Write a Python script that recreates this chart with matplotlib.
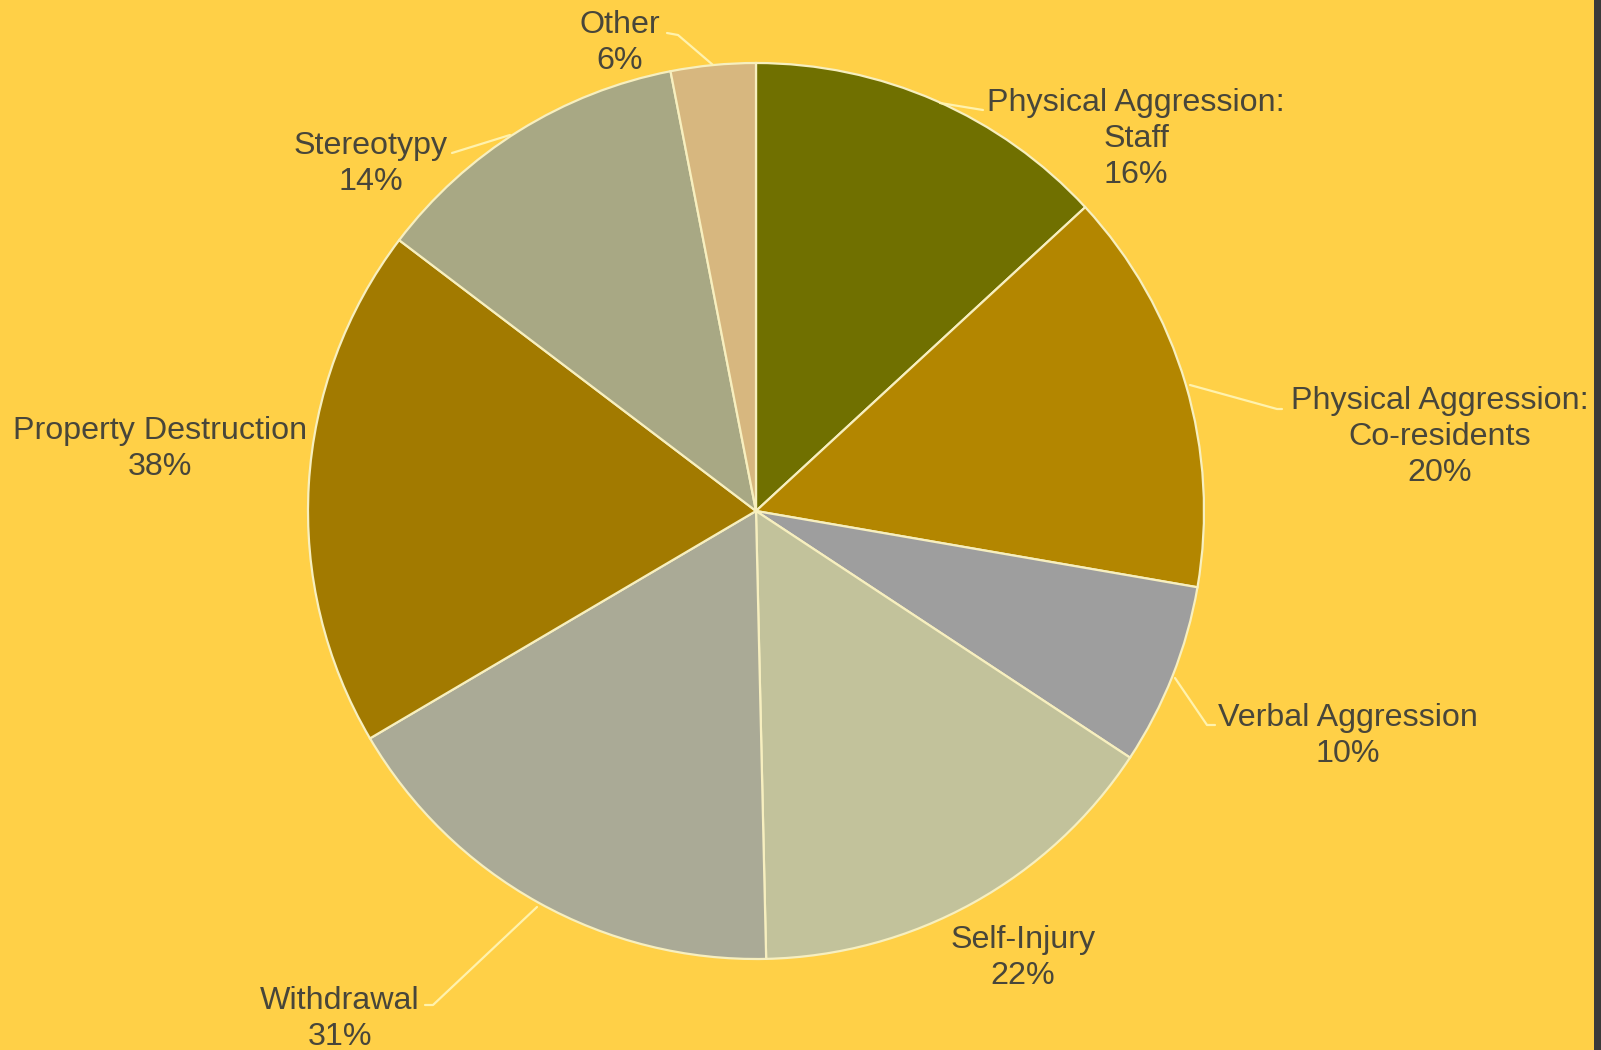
import matplotlib
matplotlib.use("Agg")
import matplotlib.pyplot as plt
from matplotlib.patches import Rectangle

# slice shares as drawn (degrees of arc, clockwise from 12 o'clock)
categories = ["Physical Aggression:\nStaff", "Physical Aggression:\nCo-residents",
              "Verbal Aggression", "Self-Injury", "Withdrawal",
              "Property Destruction", "Stereotypy", "Other"]
slice_sizes = [47.3, 52.5, 23.6, 55.3, 60.8, 67.7, 41.8, 11.0]
pct_labels = ["16%", "20%", "10%", "22%", "31%", "38%", "14%", "6%"]
colors = ["#707000", "#b38600", "#9e9e9e", "#c2c29b", "#aaaa96",
          "#a27a00", "#a8a884", "#d7b77f"]

BG = "#ffd047"
TXT = "#48463a"
LEAD = "#fff2ad"

plt.rcParams["font.family"] = ["Liberation Sans", "DejaVu Sans"]

fig = plt.figure(figsize=(16.01, 10.50), dpi=100, facecolor=BG)
ax = fig.add_axes([0, 0, 1, 1])
ax.set_facecolor(BG)

# pie in pixel coords; y axis is inverted so flip the direction
ax.pie(slice_sizes, colors=colors, startangle=-90, counterclock=True,
       center=(756, 511), radius=448, frame=True,
       wedgeprops=dict(edgecolor="#f7efbf", linewidth=1.6))
ax.set_xlim(0, 1601)
ax.set_ylim(1050, 0)
ax.set_aspect("equal")
ax.axis("off")

# label anchor positions (px) and leader lines
label_pos = [(1136, 139), (1440, 437), (1348, 736), (1023, 958),
             (340, 1019), (160, 449), (371, 164), (620, 43)]
leaders = [
    [(940, 103), (983, 110)],
    [(1190, 385), (1277, 409), (1282, 409)],
    [(1175, 678), (1207, 725), (1215, 725)],
    None,
    [(537, 907), (433, 1005), (425, 1005)],
    None,
    [(510, 135), (452, 153)],
    [(713, 65), (678, 35), (667, 33)],
]

for name, pct, (x, y), ld in zip(categories, pct_labels, label_pos, leaders):
    ax.text(x, y, name + "\n" + pct, ha="center", va="center", fontsize=23.2,
            color=TXT, linespacing=1.26)
    if ld:
        xs, ys = zip(*ld)
        ax.plot(xs, ys, color=LEAD, lw=1.6, solid_capstyle="round")

fig.patches.append(Rectangle((1594 / 1601, 0), 7 / 1601, 1, transform=fig.transFigure,
                             facecolor="#3a3a3a", edgecolor="none"))

fig.savefig("out.png", dpi=100, facecolor=BG)
